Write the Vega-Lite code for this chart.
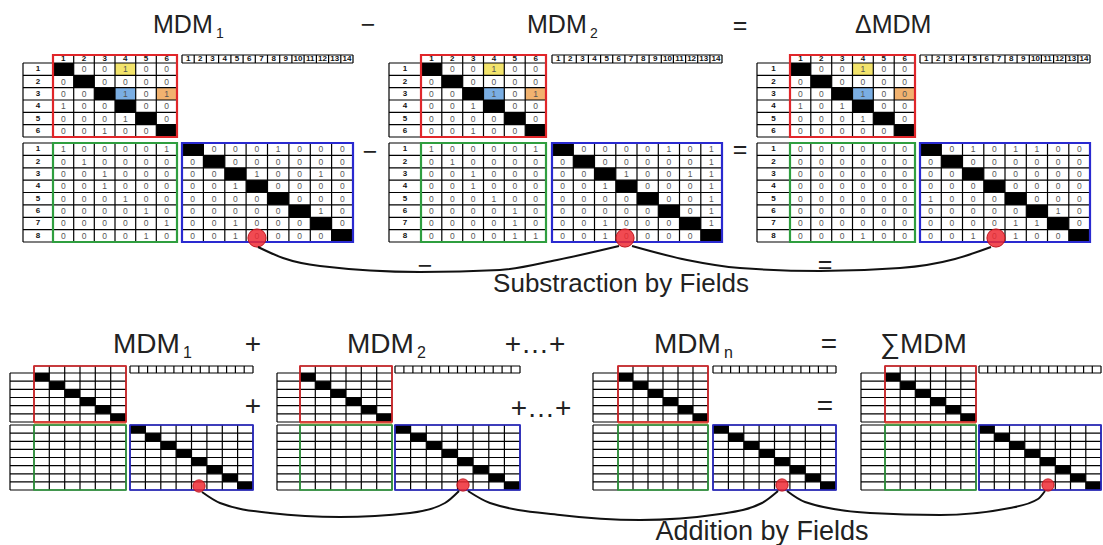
{
  "$schema": "https://vega.github.io/schema/vega-lite/v6.json",
  "width": 1103,
  "height": 545,
  "autosize": "none",
  "padding": 0,
  "background": "white",
  "config": {"view": {"stroke": null}},
  "datasets": {
    "cells": [
      {"x":53,"x2":73.7,"y":63,"y2":75.3,"f":"k"},{"x":73.7,"x2":94.3,"y":75.3,"y2":87.7,"f":"k"},{"x":94.3,"x2":115,"y":87.7,"y2":100,"f":"k"},{"x":115,"x2":135.7,"y":100,"y2":112.3,"f":"k"},{"x":135.7,"x2":156.3,"y":112.3,"y2":124.7,"f":"k"},{"x":156.3,"x2":177,"y":124.7,"y2":137,"f":"k"},
      {"x":115,"x2":135.7,"y":63,"y2":75.3,"f":"y"},{"x":115,"x2":135.7,"y":87.7,"y2":100,"f":"c"},{"x":156.3,"x2":177,"y":87.7,"y2":100,"f":"o"},
      {"x":182,"x2":203.4,"y":143,"y2":155.4,"f":"k"},{"x":203.4,"x2":224.8,"y":155.4,"y2":167.8,"f":"k"},{"x":224.8,"x2":246.1,"y":167.8,"y2":180.1,"f":"k"},{"x":246.1,"x2":267.5,"y":180.1,"y2":192.5,"f":"k"},{"x":267.5,"x2":288.9,"y":192.5,"y2":204.9,"f":"k"},{"x":288.9,"x2":310.3,"y":204.9,"y2":217.3,"f":"k"},{"x":310.3,"x2":331.6,"y":217.3,"y2":229.6,"f":"k"},{"x":331.6,"x2":353,"y":229.6,"y2":242,"f":"k"},
      {"x":421,"x2":441.8,"y":63,"y2":75.3,"f":"k"},{"x":441.8,"x2":462.7,"y":75.3,"y2":87.7,"f":"k"},{"x":462.7,"x2":483.5,"y":87.7,"y2":100,"f":"k"},{"x":483.5,"x2":504.3,"y":100,"y2":112.3,"f":"k"},{"x":504.3,"x2":525.2,"y":112.3,"y2":124.7,"f":"k"},{"x":525.2,"x2":546,"y":124.7,"y2":137,"f":"k"},
      {"x":483.5,"x2":504.3,"y":63,"y2":75.3,"f":"y"},{"x":483.5,"x2":504.3,"y":87.7,"y2":100,"f":"c"},{"x":525.2,"x2":546,"y":87.7,"y2":100,"f":"o"},
      {"x":552,"x2":573.3,"y":143,"y2":155.4,"f":"k"},{"x":573.3,"x2":594.5,"y":155.4,"y2":167.8,"f":"k"},{"x":594.5,"x2":615.8,"y":167.8,"y2":180.1,"f":"k"},{"x":615.8,"x2":637,"y":180.1,"y2":192.5,"f":"k"},{"x":637,"x2":658.3,"y":192.5,"y2":204.9,"f":"k"},{"x":658.3,"x2":679.5,"y":204.9,"y2":217.3,"f":"k"},{"x":679.5,"x2":700.8,"y":217.3,"y2":229.6,"f":"k"},{"x":700.8,"x2":722,"y":229.6,"y2":242,"f":"k"},
      {"x":790,"x2":810.8,"y":63,"y2":75.3,"f":"k"},{"x":810.8,"x2":831.7,"y":75.3,"y2":87.7,"f":"k"},{"x":831.7,"x2":852.5,"y":87.7,"y2":100,"f":"k"},{"x":852.5,"x2":873.3,"y":100,"y2":112.3,"f":"k"},{"x":873.3,"x2":894.2,"y":112.3,"y2":124.7,"f":"k"},{"x":894.2,"x2":915,"y":124.7,"y2":137,"f":"k"},
      {"x":852.5,"x2":873.3,"y":63,"y2":75.3,"f":"y"},{"x":852.5,"x2":873.3,"y":87.7,"y2":100,"f":"c"},{"x":894.2,"x2":915,"y":87.7,"y2":100,"f":"o"},
      {"x":920,"x2":941.3,"y":143,"y2":155.4,"f":"k"},{"x":941.3,"x2":962.5,"y":155.4,"y2":167.8,"f":"k"},{"x":962.5,"x2":983.8,"y":167.8,"y2":180.1,"f":"k"},{"x":983.8,"x2":1005,"y":180.1,"y2":192.5,"f":"k"},{"x":1005,"x2":1026.3,"y":192.5,"y2":204.9,"f":"k"},{"x":1026.3,"x2":1047.5,"y":204.9,"y2":217.3,"f":"k"},{"x":1047.5,"x2":1068.8,"y":217.3,"y2":229.6,"f":"k"},{"x":1068.8,"x2":1090,"y":229.6,"y2":242,"f":"k"},
      {"x":34,"x2":49.3,"y":373,"y2":381.2,"f":"k"},{"x":49.3,"x2":64.7,"y":381.2,"y2":389.3,"f":"k"},{"x":64.7,"x2":80,"y":389.3,"y2":397.5,"f":"k"},{"x":80,"x2":95.3,"y":397.5,"y2":405.7,"f":"k"},{"x":95.3,"x2":110.7,"y":405.7,"y2":413.8,"f":"k"},{"x":110.7,"x2":126,"y":413.8,"y2":422,"f":"k"},
      {"x":130,"x2":145.4,"y":425,"y2":433.1,"f":"k"},{"x":145.4,"x2":160.8,"y":433.1,"y2":441.3,"f":"k"},{"x":160.8,"x2":176.1,"y":441.3,"y2":449.4,"f":"k"},{"x":176.1,"x2":191.5,"y":449.4,"y2":457.5,"f":"k"},{"x":191.5,"x2":206.9,"y":457.5,"y2":465.6,"f":"k"},{"x":206.9,"x2":222.3,"y":465.6,"y2":473.8,"f":"k"},{"x":222.3,"x2":237.6,"y":473.8,"y2":481.9,"f":"k"},{"x":237.6,"x2":253,"y":481.9,"y2":490,"f":"k"},
      {"x":300,"x2":315.3,"y":373,"y2":381.2,"f":"k"},{"x":315.3,"x2":330.7,"y":381.2,"y2":389.3,"f":"k"},{"x":330.7,"x2":346,"y":389.3,"y2":397.5,"f":"k"},{"x":346,"x2":361.3,"y":397.5,"y2":405.7,"f":"k"},{"x":361.3,"x2":376.7,"y":405.7,"y2":413.8,"f":"k"},{"x":376.7,"x2":392,"y":413.8,"y2":422,"f":"k"},
      {"x":395,"x2":410.6,"y":425,"y2":433.1,"f":"k"},{"x":410.6,"x2":426.3,"y":433.1,"y2":441.3,"f":"k"},{"x":426.3,"x2":441.9,"y":441.3,"y2":449.4,"f":"k"},{"x":441.9,"x2":457.5,"y":449.4,"y2":457.5,"f":"k"},{"x":457.5,"x2":473.1,"y":457.5,"y2":465.6,"f":"k"},{"x":473.1,"x2":488.8,"y":465.6,"y2":473.8,"f":"k"},{"x":488.8,"x2":504.4,"y":473.8,"y2":481.9,"f":"k"},{"x":504.4,"x2":520,"y":481.9,"y2":490,"f":"k"},
      {"x":618,"x2":633,"y":373,"y2":381.2,"f":"k"},{"x":633,"x2":648,"y":381.2,"y2":389.3,"f":"k"},{"x":648,"x2":663,"y":389.3,"y2":397.5,"f":"k"},{"x":663,"x2":678,"y":397.5,"y2":405.7,"f":"k"},{"x":678,"x2":693,"y":405.7,"y2":413.8,"f":"k"},{"x":693,"x2":708,"y":413.8,"y2":422,"f":"k"},
      {"x":713,"x2":728.4,"y":425,"y2":433.1,"f":"k"},{"x":728.4,"x2":743.8,"y":433.1,"y2":441.3,"f":"k"},{"x":743.8,"x2":759.1,"y":441.3,"y2":449.4,"f":"k"},{"x":759.1,"x2":774.5,"y":449.4,"y2":457.5,"f":"k"},{"x":774.5,"x2":789.9,"y":457.5,"y2":465.6,"f":"k"},{"x":789.9,"x2":805.3,"y":465.6,"y2":473.8,"f":"k"},{"x":805.3,"x2":820.6,"y":473.8,"y2":481.9,"f":"k"},{"x":820.6,"x2":836,"y":481.9,"y2":490,"f":"k"},
      {"x":885,"x2":900.2,"y":373,"y2":381.2,"f":"k"},{"x":900.2,"x2":915.3,"y":381.2,"y2":389.3,"f":"k"},{"x":915.3,"x2":930.5,"y":389.3,"y2":397.5,"f":"k"},{"x":930.5,"x2":945.7,"y":397.5,"y2":405.7,"f":"k"},{"x":945.7,"x2":960.8,"y":405.7,"y2":413.8,"f":"k"},{"x":960.8,"x2":976,"y":413.8,"y2":422,"f":"k"},
      {"x":979,"x2":994.3,"y":425,"y2":433.1,"f":"k"},{"x":994.3,"x2":1009.5,"y":433.1,"y2":441.3,"f":"k"},{"x":1009.5,"x2":1024.8,"y":441.3,"y2":449.4,"f":"k"},{"x":1024.8,"x2":1040,"y":449.4,"y2":457.5,"f":"k"},{"x":1040,"x2":1055.3,"y":457.5,"y2":465.6,"f":"k"},{"x":1055.3,"x2":1070.5,"y":465.6,"y2":473.8,"f":"k"},{"x":1070.5,"x2":1085.8,"y":473.8,"y2":481.9,"f":"k"},{"x":1085.8,"x2":1101,"y":481.9,"y2":490,"f":"k"}
    ],
    "val": [
      {"x":84,"y":69.2,"t":0},{"x":104.7,"y":69.2,"t":0},{"x":125.3,"y":69.2,"t":1},{"x":146,"y":69.2,"t":0},{"x":166.7,"y":69.2,"t":0},
      {"x":63.3,"y":81.5,"t":0},{"x":104.7,"y":81.5,"t":0},{"x":125.3,"y":81.5,"t":0},{"x":146,"y":81.5,"t":0},{"x":166.7,"y":81.5,"t":0},
      {"x":63.3,"y":93.8,"t":0},{"x":84,"y":93.8,"t":0},{"x":125.3,"y":93.8,"t":1},{"x":146,"y":93.8,"t":0},{"x":166.7,"y":93.8,"t":1},
      {"x":63.3,"y":106.2,"t":1},{"x":84,"y":106.2,"t":0},{"x":104.7,"y":106.2,"t":0},{"x":146,"y":106.2,"t":0},{"x":166.7,"y":106.2,"t":0},
      {"x":63.3,"y":118.5,"t":0},{"x":84,"y":118.5,"t":0},{"x":104.7,"y":118.5,"t":0},{"x":125.3,"y":118.5,"t":1},{"x":166.7,"y":118.5,"t":0},
      {"x":63.3,"y":130.8,"t":0},{"x":84,"y":130.8,"t":0},{"x":104.7,"y":130.8,"t":1},{"x":125.3,"y":130.8,"t":0},{"x":146,"y":130.8,"t":0},
      {"x":63.3,"y":149.2,"t":1},{"x":84,"y":149.2,"t":0},{"x":104.7,"y":149.2,"t":0},{"x":125.3,"y":149.2,"t":0},{"x":146,"y":149.2,"t":0},{"x":166.7,"y":149.2,"t":1},
      {"x":63.3,"y":161.6,"t":0},{"x":84,"y":161.6,"t":1},{"x":104.7,"y":161.6,"t":0},{"x":125.3,"y":161.6,"t":0},{"x":146,"y":161.6,"t":0},{"x":166.7,"y":161.6,"t":0},
      {"x":63.3,"y":173.9,"t":0},{"x":84,"y":173.9,"t":0},{"x":104.7,"y":173.9,"t":1},{"x":125.3,"y":173.9,"t":0},{"x":146,"y":173.9,"t":0},{"x":166.7,"y":173.9,"t":0},
      {"x":63.3,"y":186.3,"t":0},{"x":84,"y":186.3,"t":0},{"x":104.7,"y":186.3,"t":1},{"x":125.3,"y":186.3,"t":0},{"x":146,"y":186.3,"t":0},{"x":166.7,"y":186.3,"t":0},
      {"x":63.3,"y":198.7,"t":0},{"x":84,"y":198.7,"t":0},{"x":104.7,"y":198.7,"t":0},{"x":125.3,"y":198.7,"t":1},{"x":146,"y":198.7,"t":0},{"x":166.7,"y":198.7,"t":0},
      {"x":63.3,"y":211.1,"t":0},{"x":84,"y":211.1,"t":0},{"x":104.7,"y":211.1,"t":0},{"x":125.3,"y":211.1,"t":0},{"x":146,"y":211.1,"t":1},{"x":166.7,"y":211.1,"t":0},
      {"x":63.3,"y":223.4,"t":0},{"x":84,"y":223.4,"t":0},{"x":104.7,"y":223.4,"t":0},{"x":125.3,"y":223.4,"t":0},{"x":146,"y":223.4,"t":0},{"x":166.7,"y":223.4,"t":1},
      {"x":63.3,"y":235.8,"t":0},{"x":84,"y":235.8,"t":0},{"x":104.7,"y":235.8,"t":0},{"x":125.3,"y":235.8,"t":0},{"x":146,"y":235.8,"t":1},{"x":166.7,"y":235.8,"t":0},
      {"x":214.1,"y":149.2,"t":0},{"x":235.4,"y":149.2,"t":0},{"x":256.8,"y":149.2,"t":0},{"x":278.2,"y":149.2,"t":1},{"x":299.6,"y":149.2,"t":0},{"x":320.9,"y":149.2,"t":0},{"x":342.3,"y":149.2,"t":0},
      {"x":192.7,"y":161.6,"t":0},{"x":235.4,"y":161.6,"t":0},{"x":256.8,"y":161.6,"t":0},{"x":278.2,"y":161.6,"t":0},{"x":299.6,"y":161.6,"t":0},{"x":320.9,"y":161.6,"t":0},{"x":342.3,"y":161.6,"t":0},
      {"x":192.7,"y":173.9,"t":0},{"x":214.1,"y":173.9,"t":0},{"x":256.8,"y":173.9,"t":1},{"x":278.2,"y":173.9,"t":0},{"x":299.6,"y":173.9,"t":0},{"x":320.9,"y":173.9,"t":1},{"x":342.3,"y":173.9,"t":0},
      {"x":192.7,"y":186.3,"t":0},{"x":214.1,"y":186.3,"t":0},{"x":235.4,"y":186.3,"t":1},{"x":278.2,"y":186.3,"t":0},{"x":299.6,"y":186.3,"t":0},{"x":320.9,"y":186.3,"t":0},{"x":342.3,"y":186.3,"t":0},
      {"x":192.7,"y":198.7,"t":0},{"x":214.1,"y":198.7,"t":0},{"x":235.4,"y":198.7,"t":0},{"x":256.8,"y":198.7,"t":0},{"x":299.6,"y":198.7,"t":0},{"x":320.9,"y":198.7,"t":0},{"x":342.3,"y":198.7,"t":0},
      {"x":192.7,"y":211.1,"t":0},{"x":214.1,"y":211.1,"t":0},{"x":235.4,"y":211.1,"t":0},{"x":256.8,"y":211.1,"t":0},{"x":278.2,"y":211.1,"t":0},{"x":320.9,"y":211.1,"t":1},{"x":342.3,"y":211.1,"t":0},
      {"x":192.7,"y":223.4,"t":0},{"x":214.1,"y":223.4,"t":0},{"x":235.4,"y":223.4,"t":1},{"x":256.8,"y":223.4,"t":0},{"x":278.2,"y":223.4,"t":0},{"x":299.6,"y":223.4,"t":0},{"x":342.3,"y":223.4,"t":0},
      {"x":192.7,"y":235.8,"t":0},{"x":214.1,"y":235.8,"t":0},{"x":235.4,"y":235.8,"t":1},{"x":256.8,"y":235.8,"t":0},{"x":278.2,"y":235.8,"t":0},{"x":299.6,"y":235.8,"t":0},{"x":320.9,"y":235.8,"t":0},
      {"x":452.3,"y":69.2,"t":0},{"x":473.1,"y":69.2,"t":0},{"x":493.9,"y":69.2,"t":1},{"x":514.8,"y":69.2,"t":0},{"x":535.6,"y":69.2,"t":0},
      {"x":431.4,"y":81.5,"t":0},{"x":473.1,"y":81.5,"t":0},{"x":493.9,"y":81.5,"t":0},{"x":514.8,"y":81.5,"t":0},{"x":535.6,"y":81.5,"t":0},
      {"x":431.4,"y":93.8,"t":0},{"x":452.3,"y":93.8,"t":0},{"x":493.9,"y":93.8,"t":1},{"x":514.8,"y":93.8,"t":0},{"x":535.6,"y":93.8,"t":1},
      {"x":431.4,"y":106.2,"t":0},{"x":452.3,"y":106.2,"t":0},{"x":473.1,"y":106.2,"t":1},{"x":514.8,"y":106.2,"t":0},{"x":535.6,"y":106.2,"t":0},
      {"x":431.4,"y":118.5,"t":0},{"x":452.3,"y":118.5,"t":0},{"x":473.1,"y":118.5,"t":0},{"x":493.9,"y":118.5,"t":0},{"x":535.6,"y":118.5,"t":0},
      {"x":431.4,"y":130.8,"t":0},{"x":452.3,"y":130.8,"t":0},{"x":473.1,"y":130.8,"t":1},{"x":493.9,"y":130.8,"t":0},{"x":514.8,"y":130.8,"t":0},
      {"x":431.4,"y":149.2,"t":1},{"x":452.3,"y":149.2,"t":0},{"x":473.1,"y":149.2,"t":0},{"x":493.9,"y":149.2,"t":0},{"x":514.8,"y":149.2,"t":0},{"x":535.6,"y":149.2,"t":1},
      {"x":431.4,"y":161.6,"t":0},{"x":452.3,"y":161.6,"t":1},{"x":473.1,"y":161.6,"t":0},{"x":493.9,"y":161.6,"t":0},{"x":514.8,"y":161.6,"t":0},{"x":535.6,"y":161.6,"t":0},
      {"x":431.4,"y":173.9,"t":0},{"x":452.3,"y":173.9,"t":0},{"x":473.1,"y":173.9,"t":1},{"x":493.9,"y":173.9,"t":0},{"x":514.8,"y":173.9,"t":0},{"x":535.6,"y":173.9,"t":0},
      {"x":431.4,"y":186.3,"t":0},{"x":452.3,"y":186.3,"t":0},{"x":473.1,"y":186.3,"t":1},{"x":493.9,"y":186.3,"t":0},{"x":514.8,"y":186.3,"t":0},{"x":535.6,"y":186.3,"t":0},
      {"x":431.4,"y":198.7,"t":0},{"x":452.3,"y":198.7,"t":0},{"x":473.1,"y":198.7,"t":0},{"x":493.9,"y":198.7,"t":1},{"x":514.8,"y":198.7,"t":0},{"x":535.6,"y":198.7,"t":0},
      {"x":431.4,"y":211.1,"t":0},{"x":452.3,"y":211.1,"t":0},{"x":473.1,"y":211.1,"t":0},{"x":493.9,"y":211.1,"t":0},{"x":514.8,"y":211.1,"t":1},{"x":535.6,"y":211.1,"t":0},
      {"x":431.4,"y":223.4,"t":0},{"x":452.3,"y":223.4,"t":0},{"x":473.1,"y":223.4,"t":0},{"x":493.9,"y":223.4,"t":0},{"x":514.8,"y":223.4,"t":1},{"x":535.6,"y":223.4,"t":0},
      {"x":431.4,"y":235.8,"t":0},{"x":452.3,"y":235.8,"t":0},{"x":473.1,"y":235.8,"t":0},{"x":493.9,"y":235.8,"t":0},{"x":514.8,"y":235.8,"t":1},{"x":535.6,"y":235.8,"t":1},
      {"x":583.9,"y":149.2,"t":0},{"x":605.1,"y":149.2,"t":0},{"x":626.4,"y":149.2,"t":0},{"x":647.6,"y":149.2,"t":0},{"x":668.9,"y":149.2,"t":1},{"x":690.1,"y":149.2,"t":0},{"x":711.4,"y":149.2,"t":1},
      {"x":562.6,"y":161.6,"t":0},{"x":605.1,"y":161.6,"t":0},{"x":626.4,"y":161.6,"t":0},{"x":647.6,"y":161.6,"t":0},{"x":668.9,"y":161.6,"t":0},{"x":690.1,"y":161.6,"t":0},{"x":711.4,"y":161.6,"t":1},
      {"x":562.6,"y":173.9,"t":0},{"x":583.9,"y":173.9,"t":0},{"x":626.4,"y":173.9,"t":1},{"x":647.6,"y":173.9,"t":0},{"x":668.9,"y":173.9,"t":0},{"x":690.1,"y":173.9,"t":1},{"x":711.4,"y":173.9,"t":1},
      {"x":562.6,"y":186.3,"t":0},{"x":583.9,"y":186.3,"t":0},{"x":605.1,"y":186.3,"t":1},{"x":647.6,"y":186.3,"t":0},{"x":668.9,"y":186.3,"t":0},{"x":690.1,"y":186.3,"t":0},{"x":711.4,"y":186.3,"t":1},
      {"x":562.6,"y":198.7,"t":0},{"x":583.9,"y":198.7,"t":0},{"x":605.1,"y":198.7,"t":0},{"x":626.4,"y":198.7,"t":0},{"x":668.9,"y":198.7,"t":0},{"x":690.1,"y":198.7,"t":0},{"x":711.4,"y":198.7,"t":1},
      {"x":562.6,"y":211.1,"t":0},{"x":583.9,"y":211.1,"t":0},{"x":605.1,"y":211.1,"t":0},{"x":626.4,"y":211.1,"t":0},{"x":647.6,"y":211.1,"t":0},{"x":690.1,"y":211.1,"t":0},{"x":711.4,"y":211.1,"t":1},
      {"x":562.6,"y":223.4,"t":0},{"x":583.9,"y":223.4,"t":0},{"x":605.1,"y":223.4,"t":1},{"x":626.4,"y":223.4,"t":0},{"x":647.6,"y":223.4,"t":0},{"x":668.9,"y":223.4,"t":0},{"x":711.4,"y":223.4,"t":1},
      {"x":562.6,"y":235.8,"t":0},{"x":583.9,"y":235.8,"t":0},{"x":605.1,"y":235.8,"t":1},{"x":626.4,"y":235.8,"t":0},{"x":647.6,"y":235.8,"t":0},{"x":668.9,"y":235.8,"t":0},{"x":690.1,"y":235.8,"t":0},
      {"x":821.3,"y":69.2,"t":0},{"x":842.1,"y":69.2,"t":0},{"x":862.9,"y":69.2,"t":1},{"x":883.8,"y":69.2,"t":0},{"x":904.6,"y":69.2,"t":0},
      {"x":800.4,"y":81.5,"t":0},{"x":842.1,"y":81.5,"t":0},{"x":862.9,"y":81.5,"t":0},{"x":883.8,"y":81.5,"t":0},{"x":904.6,"y":81.5,"t":0},
      {"x":800.4,"y":93.8,"t":0},{"x":821.3,"y":93.8,"t":0},{"x":862.9,"y":93.8,"t":1},{"x":883.8,"y":93.8,"t":0},{"x":904.6,"y":93.8,"t":0},
      {"x":800.4,"y":106.2,"t":1},{"x":821.3,"y":106.2,"t":0},{"x":842.1,"y":106.2,"t":1},{"x":883.8,"y":106.2,"t":0},{"x":904.6,"y":106.2,"t":0},
      {"x":800.4,"y":118.5,"t":0},{"x":821.3,"y":118.5,"t":0},{"x":842.1,"y":118.5,"t":0},{"x":862.9,"y":118.5,"t":1},{"x":904.6,"y":118.5,"t":0},
      {"x":800.4,"y":130.8,"t":0},{"x":821.3,"y":130.8,"t":0},{"x":842.1,"y":130.8,"t":0},{"x":862.9,"y":130.8,"t":0},{"x":883.8,"y":130.8,"t":0},
      {"x":800.4,"y":149.2,"t":0},{"x":821.3,"y":149.2,"t":0},{"x":842.1,"y":149.2,"t":0},{"x":862.9,"y":149.2,"t":0},{"x":883.8,"y":149.2,"t":0},{"x":904.6,"y":149.2,"t":0},
      {"x":800.4,"y":161.6,"t":0},{"x":821.3,"y":161.6,"t":0},{"x":842.1,"y":161.6,"t":0},{"x":862.9,"y":161.6,"t":0},{"x":883.8,"y":161.6,"t":0},{"x":904.6,"y":161.6,"t":0},
      {"x":800.4,"y":173.9,"t":0},{"x":821.3,"y":173.9,"t":0},{"x":842.1,"y":173.9,"t":0},{"x":862.9,"y":173.9,"t":0},{"x":883.8,"y":173.9,"t":0},{"x":904.6,"y":173.9,"t":0},
      {"x":800.4,"y":186.3,"t":0},{"x":821.3,"y":186.3,"t":0},{"x":842.1,"y":186.3,"t":0},{"x":862.9,"y":186.3,"t":0},{"x":883.8,"y":186.3,"t":0},{"x":904.6,"y":186.3,"t":0},
      {"x":800.4,"y":198.7,"t":0},{"x":821.3,"y":198.7,"t":0},{"x":842.1,"y":198.7,"t":0},{"x":862.9,"y":198.7,"t":0},{"x":883.8,"y":198.7,"t":0},{"x":904.6,"y":198.7,"t":0},
      {"x":800.4,"y":211.1,"t":0},{"x":821.3,"y":211.1,"t":0},{"x":842.1,"y":211.1,"t":0},{"x":862.9,"y":211.1,"t":0},{"x":883.8,"y":211.1,"t":0},{"x":904.6,"y":211.1,"t":0},
      {"x":800.4,"y":223.4,"t":0},{"x":821.3,"y":223.4,"t":0},{"x":842.1,"y":223.4,"t":0},{"x":862.9,"y":223.4,"t":0},{"x":883.8,"y":223.4,"t":0},{"x":904.6,"y":223.4,"t":0},
      {"x":800.4,"y":235.8,"t":0},{"x":821.3,"y":235.8,"t":0},{"x":842.1,"y":235.8,"t":0},{"x":862.9,"y":235.8,"t":1},{"x":883.8,"y":235.8,"t":0},{"x":904.6,"y":235.8,"t":0},
      {"x":951.9,"y":149.2,"t":0},{"x":973.1,"y":149.2,"t":1},{"x":994.4,"y":149.2,"t":0},{"x":1015.6,"y":149.2,"t":1},{"x":1036.9,"y":149.2,"t":1},{"x":1058.1,"y":149.2,"t":0},{"x":1079.4,"y":149.2,"t":0},
      {"x":930.6,"y":161.6,"t":0},{"x":973.1,"y":161.6,"t":0},{"x":994.4,"y":161.6,"t":0},{"x":1015.6,"y":161.6,"t":0},{"x":1036.9,"y":161.6,"t":0},{"x":1058.1,"y":161.6,"t":0},{"x":1079.4,"y":161.6,"t":0},
      {"x":930.6,"y":173.9,"t":0},{"x":951.9,"y":173.9,"t":0},{"x":994.4,"y":173.9,"t":0},{"x":1015.6,"y":173.9,"t":0},{"x":1036.9,"y":173.9,"t":0},{"x":1058.1,"y":173.9,"t":0},{"x":1079.4,"y":173.9,"t":0},
      {"x":930.6,"y":186.3,"t":0},{"x":951.9,"y":186.3,"t":0},{"x":973.1,"y":186.3,"t":0},{"x":1015.6,"y":186.3,"t":0},{"x":1036.9,"y":186.3,"t":0},{"x":1058.1,"y":186.3,"t":0},{"x":1079.4,"y":186.3,"t":0},
      {"x":930.6,"y":198.7,"t":1},{"x":951.9,"y":198.7,"t":0},{"x":973.1,"y":198.7,"t":0},{"x":994.4,"y":198.7,"t":0},{"x":1036.9,"y":198.7,"t":0},{"x":1058.1,"y":198.7,"t":0},{"x":1079.4,"y":198.7,"t":0},
      {"x":930.6,"y":211.1,"t":0},{"x":951.9,"y":211.1,"t":0},{"x":973.1,"y":211.1,"t":0},{"x":994.4,"y":211.1,"t":0},{"x":1015.6,"y":211.1,"t":0},{"x":1058.1,"y":211.1,"t":1},{"x":1079.4,"y":211.1,"t":0},
      {"x":930.6,"y":223.4,"t":0},{"x":951.9,"y":223.4,"t":0},{"x":973.1,"y":223.4,"t":0},{"x":994.4,"y":223.4,"t":0},{"x":1015.6,"y":223.4,"t":1},{"x":1036.9,"y":223.4,"t":1},{"x":1079.4,"y":223.4,"t":0},
      {"x":930.6,"y":235.8,"t":0},{"x":951.9,"y":235.8,"t":0},{"x":973.1,"y":235.8,"t":1},{"x":994.4,"y":235.8,"t":0},{"x":1015.6,"y":235.8,"t":1},{"x":1036.9,"y":235.8,"t":0},{"x":1058.1,"y":235.8,"t":0}
    ],
    "lab": [
      {"x":38,"y":69.2,"t":"1"},{"x":38,"y":81.5,"t":"2"},{"x":38,"y":93.8,"t":"3"},{"x":38,"y":106.2,"t":"4"},{"x":38,"y":118.5,"t":"5"},{"x":38,"y":130.8,"t":"6"},
      {"x":38,"y":149.2,"t":"1"},{"x":38,"y":161.6,"t":"2"},{"x":38,"y":173.9,"t":"3"},{"x":38,"y":186.3,"t":"4"},{"x":38,"y":198.7,"t":"5"},{"x":38,"y":211.1,"t":"6"},{"x":38,"y":223.4,"t":"7"},{"x":38,"y":235.8,"t":"8"},
      {"x":63.3,"y":59,"t":"1"},{"x":84,"y":59,"t":"2"},{"x":104.7,"y":59,"t":"3"},{"x":125.3,"y":59,"t":"4"},{"x":146,"y":59,"t":"5"},{"x":166.7,"y":59,"t":"6"},
      {"x":188.1,"y":59,"t":"1"},{"x":200.3,"y":59,"t":"2"},{"x":212.5,"y":59,"t":"3"},{"x":224.7,"y":59,"t":"4"},{"x":237,"y":59,"t":"5"},{"x":249.2,"y":59,"t":"6"},{"x":261.4,"y":59,"t":"7"},{"x":273.6,"y":59,"t":"8"},{"x":285.8,"y":59,"t":"9"},{"x":298,"y":59,"t":"10"},{"x":310.3,"y":59,"t":"11"},{"x":322.5,"y":59,"t":"12"},{"x":334.7,"y":59,"t":"13"},{"x":346.9,"y":59,"t":"14"},
      {"x":405,"y":69.2,"t":"1"},{"x":405,"y":81.5,"t":"2"},{"x":405,"y":93.8,"t":"3"},{"x":405,"y":106.2,"t":"4"},{"x":405,"y":118.5,"t":"5"},{"x":405,"y":130.8,"t":"6"},
      {"x":405,"y":149.2,"t":"1"},{"x":405,"y":161.6,"t":"2"},{"x":405,"y":173.9,"t":"3"},{"x":405,"y":186.3,"t":"4"},{"x":405,"y":198.7,"t":"5"},{"x":405,"y":211.1,"t":"6"},{"x":405,"y":223.4,"t":"7"},{"x":405,"y":235.8,"t":"8"},
      {"x":431.4,"y":59,"t":"1"},{"x":452.3,"y":59,"t":"2"},{"x":473.1,"y":59,"t":"3"},{"x":493.9,"y":59,"t":"4"},{"x":514.8,"y":59,"t":"5"},{"x":535.6,"y":59,"t":"6"},
      {"x":558.1,"y":59,"t":"1"},{"x":570.2,"y":59,"t":"2"},{"x":582.4,"y":59,"t":"3"},{"x":594.5,"y":59,"t":"4"},{"x":606.6,"y":59,"t":"5"},{"x":618.8,"y":59,"t":"6"},{"x":630.9,"y":59,"t":"7"},{"x":643.1,"y":59,"t":"8"},{"x":655.2,"y":59,"t":"9"},{"x":667.4,"y":59,"t":"10"},{"x":679.5,"y":59,"t":"11"},{"x":691.6,"y":59,"t":"12"},{"x":703.8,"y":59,"t":"13"},{"x":715.9,"y":59,"t":"14"},
      {"x":773.5,"y":69.2,"t":"1"},{"x":773.5,"y":81.5,"t":"2"},{"x":773.5,"y":93.8,"t":"3"},{"x":773.5,"y":106.2,"t":"4"},{"x":773.5,"y":118.5,"t":"5"},{"x":773.5,"y":130.8,"t":"6"},
      {"x":773.5,"y":149.2,"t":"1"},{"x":773.5,"y":161.6,"t":"2"},{"x":773.5,"y":173.9,"t":"3"},{"x":773.5,"y":186.3,"t":"4"},{"x":773.5,"y":198.7,"t":"5"},{"x":773.5,"y":211.1,"t":"6"},{"x":773.5,"y":223.4,"t":"7"},{"x":773.5,"y":235.8,"t":"8"},
      {"x":800.4,"y":59,"t":"1"},{"x":821.3,"y":59,"t":"2"},{"x":842.1,"y":59,"t":"3"},{"x":862.9,"y":59,"t":"4"},{"x":883.8,"y":59,"t":"5"},{"x":904.6,"y":59,"t":"6"},
      {"x":926.1,"y":59,"t":"1"},{"x":938.2,"y":59,"t":"2"},{"x":950.4,"y":59,"t":"3"},{"x":962.5,"y":59,"t":"4"},{"x":974.6,"y":59,"t":"5"},{"x":986.8,"y":59,"t":"6"},{"x":998.9,"y":59,"t":"7"},{"x":1011.1,"y":59,"t":"8"},{"x":1023.2,"y":59,"t":"9"},{"x":1035.4,"y":59,"t":"10"},{"x":1047.5,"y":59,"t":"11"},{"x":1059.6,"y":59,"t":"12"},{"x":1071.8,"y":59,"t":"13"},{"x":1083.9,"y":59,"t":"14"}
    ],
    "hl": [
      {"y":55,"a":53,"b":177},{"y":55,"a":182,"b":353},{"y":63,"a":23,"b":177},{"y":63,"a":182,"b":353},
      {"y":75.3,"a":23,"b":177},{"y":87.7,"a":23,"b":177},{"y":100,"a":23,"b":177},{"y":112.3,"a":23,"b":177},{"y":124.7,"a":23,"b":177},{"y":137,"a":23,"b":177},
      {"y":143,"a":23,"b":177},{"y":155.4,"a":23,"b":177},{"y":167.8,"a":23,"b":177},{"y":180.1,"a":23,"b":177},{"y":192.5,"a":23,"b":177},{"y":204.9,"a":23,"b":177},{"y":217.3,"a":23,"b":177},{"y":229.6,"a":23,"b":177},{"y":242,"a":23,"b":177},
      {"y":143,"a":182,"b":353},{"y":155.4,"a":182,"b":353},{"y":167.8,"a":182,"b":353},{"y":180.1,"a":182,"b":353},{"y":192.5,"a":182,"b":353},{"y":204.9,"a":182,"b":353},{"y":217.3,"a":182,"b":353},{"y":229.6,"a":182,"b":353},{"y":242,"a":182,"b":353},
      {"y":55,"a":421,"b":546},{"y":55,"a":552,"b":722},{"y":63,"a":389,"b":546},{"y":63,"a":552,"b":722},
      {"y":75.3,"a":389,"b":546},{"y":87.7,"a":389,"b":546},{"y":100,"a":389,"b":546},{"y":112.3,"a":389,"b":546},{"y":124.7,"a":389,"b":546},{"y":137,"a":389,"b":546},
      {"y":143,"a":389,"b":546},{"y":155.4,"a":389,"b":546},{"y":167.8,"a":389,"b":546},{"y":180.1,"a":389,"b":546},{"y":192.5,"a":389,"b":546},{"y":204.9,"a":389,"b":546},{"y":217.3,"a":389,"b":546},{"y":229.6,"a":389,"b":546},{"y":242,"a":389,"b":546},
      {"y":143,"a":552,"b":722},{"y":155.4,"a":552,"b":722},{"y":167.8,"a":552,"b":722},{"y":180.1,"a":552,"b":722},{"y":192.5,"a":552,"b":722},{"y":204.9,"a":552,"b":722},{"y":217.3,"a":552,"b":722},{"y":229.6,"a":552,"b":722},{"y":242,"a":552,"b":722},
      {"y":55,"a":790,"b":915},{"y":55,"a":920,"b":1090},{"y":63,"a":757,"b":915},{"y":63,"a":920,"b":1090},
      {"y":75.3,"a":757,"b":915},{"y":87.7,"a":757,"b":915},{"y":100,"a":757,"b":915},{"y":112.3,"a":757,"b":915},{"y":124.7,"a":757,"b":915},{"y":137,"a":757,"b":915},
      {"y":143,"a":757,"b":915},{"y":155.4,"a":757,"b":915},{"y":167.8,"a":757,"b":915},{"y":180.1,"a":757,"b":915},{"y":192.5,"a":757,"b":915},{"y":204.9,"a":757,"b":915},{"y":217.3,"a":757,"b":915},{"y":229.6,"a":757,"b":915},{"y":242,"a":757,"b":915},
      {"y":143,"a":920,"b":1090},{"y":155.4,"a":920,"b":1090},{"y":167.8,"a":920,"b":1090},{"y":180.1,"a":920,"b":1090},{"y":192.5,"a":920,"b":1090},{"y":204.9,"a":920,"b":1090},{"y":217.3,"a":920,"b":1090},{"y":229.6,"a":920,"b":1090},{"y":242,"a":920,"b":1090},
      {"y":366,"a":34,"b":126},{"y":366,"a":130,"b":253},{"y":373,"a":10,"b":126},{"y":373,"a":130,"b":253},
      {"y":381.2,"a":10,"b":126},{"y":389.3,"a":10,"b":126},{"y":397.5,"a":10,"b":126},{"y":405.7,"a":10,"b":126},{"y":413.8,"a":10,"b":126},{"y":422,"a":10,"b":126},
      {"y":425,"a":10,"b":126},{"y":433.1,"a":10,"b":126},{"y":441.3,"a":10,"b":126},{"y":449.4,"a":10,"b":126},{"y":457.5,"a":10,"b":126},{"y":465.6,"a":10,"b":126},{"y":473.8,"a":10,"b":126},{"y":481.9,"a":10,"b":126},{"y":490,"a":10,"b":126},
      {"y":425,"a":130,"b":253},{"y":433.1,"a":130,"b":253},{"y":441.3,"a":130,"b":253},{"y":449.4,"a":130,"b":253},{"y":457.5,"a":130,"b":253},{"y":465.6,"a":130,"b":253},{"y":473.8,"a":130,"b":253},{"y":481.9,"a":130,"b":253},{"y":490,"a":130,"b":253},
      {"y":366,"a":300,"b":392},{"y":366,"a":395,"b":520},{"y":373,"a":277,"b":392},{"y":373,"a":395,"b":520},
      {"y":381.2,"a":277,"b":392},{"y":389.3,"a":277,"b":392},{"y":397.5,"a":277,"b":392},{"y":405.7,"a":277,"b":392},{"y":413.8,"a":277,"b":392},{"y":422,"a":277,"b":392},
      {"y":425,"a":277,"b":392},{"y":433.1,"a":277,"b":392},{"y":441.3,"a":277,"b":392},{"y":449.4,"a":277,"b":392},{"y":457.5,"a":277,"b":392},{"y":465.6,"a":277,"b":392},{"y":473.8,"a":277,"b":392},{"y":481.9,"a":277,"b":392},{"y":490,"a":277,"b":392},
      {"y":425,"a":395,"b":520},{"y":433.1,"a":395,"b":520},{"y":441.3,"a":395,"b":520},{"y":449.4,"a":395,"b":520},{"y":457.5,"a":395,"b":520},{"y":465.6,"a":395,"b":520},{"y":473.8,"a":395,"b":520},{"y":481.9,"a":395,"b":520},{"y":490,"a":395,"b":520},
      {"y":366,"a":618,"b":708},{"y":366,"a":713,"b":836},{"y":373,"a":593,"b":708},{"y":373,"a":713,"b":836},
      {"y":381.2,"a":593,"b":708},{"y":389.3,"a":593,"b":708},{"y":397.5,"a":593,"b":708},{"y":405.7,"a":593,"b":708},{"y":413.8,"a":593,"b":708},{"y":422,"a":593,"b":708},
      {"y":425,"a":593,"b":708},{"y":433.1,"a":593,"b":708},{"y":441.3,"a":593,"b":708},{"y":449.4,"a":593,"b":708},{"y":457.5,"a":593,"b":708},{"y":465.6,"a":593,"b":708},{"y":473.8,"a":593,"b":708},{"y":481.9,"a":593,"b":708},{"y":490,"a":593,"b":708},
      {"y":425,"a":713,"b":836},{"y":433.1,"a":713,"b":836},{"y":441.3,"a":713,"b":836},{"y":449.4,"a":713,"b":836},{"y":457.5,"a":713,"b":836},{"y":465.6,"a":713,"b":836},{"y":473.8,"a":713,"b":836},{"y":481.9,"a":713,"b":836},{"y":490,"a":713,"b":836},
      {"y":366,"a":885,"b":976},{"y":366,"a":979,"b":1101},{"y":373,"a":861,"b":976},{"y":373,"a":979,"b":1101},
      {"y":381.2,"a":861,"b":976},{"y":389.3,"a":861,"b":976},{"y":397.5,"a":861,"b":976},{"y":405.7,"a":861,"b":976},{"y":413.8,"a":861,"b":976},{"y":422,"a":861,"b":976},
      {"y":425,"a":861,"b":976},{"y":433.1,"a":861,"b":976},{"y":441.3,"a":861,"b":976},{"y":449.4,"a":861,"b":976},{"y":457.5,"a":861,"b":976},{"y":465.6,"a":861,"b":976},{"y":473.8,"a":861,"b":976},{"y":481.9,"a":861,"b":976},{"y":490,"a":861,"b":976},
      {"y":425,"a":979,"b":1101},{"y":433.1,"a":979,"b":1101},{"y":441.3,"a":979,"b":1101},{"y":449.4,"a":979,"b":1101},{"y":457.5,"a":979,"b":1101},{"y":465.6,"a":979,"b":1101},{"y":473.8,"a":979,"b":1101},{"y":481.9,"a":979,"b":1101},{"y":490,"a":979,"b":1101}
    ],
    "vl": [
      {"x":23,"a":63,"b":137},{"x":23,"a":143,"b":242},
      {"x":53,"a":55,"b":137},{"x":73.7,"a":55,"b":137},{"x":94.3,"a":55,"b":137},{"x":115,"a":55,"b":137},{"x":135.7,"a":55,"b":137},{"x":156.3,"a":55,"b":137},{"x":177,"a":55,"b":137},
      {"x":53,"a":143,"b":242},{"x":73.7,"a":143,"b":242},{"x":94.3,"a":143,"b":242},{"x":115,"a":143,"b":242},{"x":135.7,"a":143,"b":242},{"x":156.3,"a":143,"b":242},{"x":177,"a":143,"b":242},
      {"x":182,"a":55,"b":63},{"x":194.2,"a":55,"b":63},{"x":206.4,"a":55,"b":63},{"x":218.6,"a":55,"b":63},{"x":230.9,"a":55,"b":63},{"x":243.1,"a":55,"b":63},{"x":255.3,"a":55,"b":63},{"x":267.5,"a":55,"b":63},{"x":279.7,"a":55,"b":63},{"x":291.9,"a":55,"b":63},{"x":304.1,"a":55,"b":63},{"x":316.4,"a":55,"b":63},{"x":328.6,"a":55,"b":63},{"x":340.8,"a":55,"b":63},{"x":353,"a":55,"b":63},
      {"x":182,"a":143,"b":242},{"x":203.4,"a":143,"b":242},{"x":224.8,"a":143,"b":242},{"x":246.1,"a":143,"b":242},{"x":267.5,"a":143,"b":242},{"x":288.9,"a":143,"b":242},{"x":310.3,"a":143,"b":242},{"x":331.6,"a":143,"b":242},{"x":353,"a":143,"b":242},
      {"x":389,"a":63,"b":137},{"x":389,"a":143,"b":242},
      {"x":421,"a":55,"b":137},{"x":441.8,"a":55,"b":137},{"x":462.7,"a":55,"b":137},{"x":483.5,"a":55,"b":137},{"x":504.3,"a":55,"b":137},{"x":525.2,"a":55,"b":137},{"x":546,"a":55,"b":137},
      {"x":421,"a":143,"b":242},{"x":441.8,"a":143,"b":242},{"x":462.7,"a":143,"b":242},{"x":483.5,"a":143,"b":242},{"x":504.3,"a":143,"b":242},{"x":525.2,"a":143,"b":242},{"x":546,"a":143,"b":242},
      {"x":552,"a":55,"b":63},{"x":564.1,"a":55,"b":63},{"x":576.3,"a":55,"b":63},{"x":588.4,"a":55,"b":63},{"x":600.6,"a":55,"b":63},{"x":612.7,"a":55,"b":63},{"x":624.9,"a":55,"b":63},{"x":637,"a":55,"b":63},{"x":649.1,"a":55,"b":63},{"x":661.3,"a":55,"b":63},{"x":673.4,"a":55,"b":63},{"x":685.6,"a":55,"b":63},{"x":697.7,"a":55,"b":63},{"x":709.9,"a":55,"b":63},{"x":722,"a":55,"b":63},
      {"x":552,"a":143,"b":242},{"x":573.3,"a":143,"b":242},{"x":594.5,"a":143,"b":242},{"x":615.8,"a":143,"b":242},{"x":637,"a":143,"b":242},{"x":658.3,"a":143,"b":242},{"x":679.5,"a":143,"b":242},{"x":700.8,"a":143,"b":242},{"x":722,"a":143,"b":242},
      {"x":757,"a":63,"b":137},{"x":757,"a":143,"b":242},
      {"x":790,"a":55,"b":137},{"x":810.8,"a":55,"b":137},{"x":831.7,"a":55,"b":137},{"x":852.5,"a":55,"b":137},{"x":873.3,"a":55,"b":137},{"x":894.2,"a":55,"b":137},{"x":915,"a":55,"b":137},
      {"x":790,"a":143,"b":242},{"x":810.8,"a":143,"b":242},{"x":831.7,"a":143,"b":242},{"x":852.5,"a":143,"b":242},{"x":873.3,"a":143,"b":242},{"x":894.2,"a":143,"b":242},{"x":915,"a":143,"b":242},
      {"x":920,"a":55,"b":63},{"x":932.1,"a":55,"b":63},{"x":944.3,"a":55,"b":63},{"x":956.4,"a":55,"b":63},{"x":968.6,"a":55,"b":63},{"x":980.7,"a":55,"b":63},{"x":992.9,"a":55,"b":63},{"x":1005,"a":55,"b":63},{"x":1017.1,"a":55,"b":63},{"x":1029.3,"a":55,"b":63},{"x":1041.4,"a":55,"b":63},{"x":1053.6,"a":55,"b":63},{"x":1065.7,"a":55,"b":63},{"x":1077.9,"a":55,"b":63},{"x":1090,"a":55,"b":63},
      {"x":920,"a":143,"b":242},{"x":941.3,"a":143,"b":242},{"x":962.5,"a":143,"b":242},{"x":983.8,"a":143,"b":242},{"x":1005,"a":143,"b":242},{"x":1026.3,"a":143,"b":242},{"x":1047.5,"a":143,"b":242},{"x":1068.8,"a":143,"b":242},{"x":1090,"a":143,"b":242},
      {"x":10,"a":373,"b":422},{"x":10,"a":425,"b":490},
      {"x":34,"a":366,"b":422},{"x":49.3,"a":366,"b":422},{"x":64.7,"a":366,"b":422},{"x":80,"a":366,"b":422},{"x":95.3,"a":366,"b":422},{"x":110.7,"a":366,"b":422},{"x":126,"a":366,"b":422},
      {"x":34,"a":425,"b":490},{"x":49.3,"a":425,"b":490},{"x":64.7,"a":425,"b":490},{"x":80,"a":425,"b":490},{"x":95.3,"a":425,"b":490},{"x":110.7,"a":425,"b":490},{"x":126,"a":425,"b":490},
      {"x":130,"a":366,"b":373},{"x":138.8,"a":366,"b":373},{"x":147.6,"a":366,"b":373},{"x":156.4,"a":366,"b":373},{"x":165.1,"a":366,"b":373},{"x":173.9,"a":366,"b":373},{"x":182.7,"a":366,"b":373},{"x":191.5,"a":366,"b":373},{"x":200.3,"a":366,"b":373},{"x":209.1,"a":366,"b":373},{"x":217.9,"a":366,"b":373},{"x":226.6,"a":366,"b":373},{"x":235.4,"a":366,"b":373},{"x":244.2,"a":366,"b":373},{"x":253,"a":366,"b":373},
      {"x":130,"a":425,"b":490},{"x":145.4,"a":425,"b":490},{"x":160.8,"a":425,"b":490},{"x":176.1,"a":425,"b":490},{"x":191.5,"a":425,"b":490},{"x":206.9,"a":425,"b":490},{"x":222.3,"a":425,"b":490},{"x":237.6,"a":425,"b":490},{"x":253,"a":425,"b":490},
      {"x":277,"a":373,"b":422},{"x":277,"a":425,"b":490},
      {"x":300,"a":366,"b":422},{"x":315.3,"a":366,"b":422},{"x":330.7,"a":366,"b":422},{"x":346,"a":366,"b":422},{"x":361.3,"a":366,"b":422},{"x":376.7,"a":366,"b":422},{"x":392,"a":366,"b":422},
      {"x":300,"a":425,"b":490},{"x":315.3,"a":425,"b":490},{"x":330.7,"a":425,"b":490},{"x":346,"a":425,"b":490},{"x":361.3,"a":425,"b":490},{"x":376.7,"a":425,"b":490},{"x":392,"a":425,"b":490},
      {"x":395,"a":366,"b":373},{"x":403.9,"a":366,"b":373},{"x":412.9,"a":366,"b":373},{"x":421.8,"a":366,"b":373},{"x":430.7,"a":366,"b":373},{"x":439.6,"a":366,"b":373},{"x":448.6,"a":366,"b":373},{"x":457.5,"a":366,"b":373},{"x":466.4,"a":366,"b":373},{"x":475.4,"a":366,"b":373},{"x":484.3,"a":366,"b":373},{"x":493.2,"a":366,"b":373},{"x":502.1,"a":366,"b":373},{"x":511.1,"a":366,"b":373},{"x":520,"a":366,"b":373},
      {"x":395,"a":425,"b":490},{"x":410.6,"a":425,"b":490},{"x":426.3,"a":425,"b":490},{"x":441.9,"a":425,"b":490},{"x":457.5,"a":425,"b":490},{"x":473.1,"a":425,"b":490},{"x":488.8,"a":425,"b":490},{"x":504.4,"a":425,"b":490},{"x":520,"a":425,"b":490},
      {"x":593,"a":373,"b":422},{"x":593,"a":425,"b":490},
      {"x":618,"a":366,"b":422},{"x":633,"a":366,"b":422},{"x":648,"a":366,"b":422},{"x":663,"a":366,"b":422},{"x":678,"a":366,"b":422},{"x":693,"a":366,"b":422},{"x":708,"a":366,"b":422},
      {"x":618,"a":425,"b":490},{"x":633,"a":425,"b":490},{"x":648,"a":425,"b":490},{"x":663,"a":425,"b":490},{"x":678,"a":425,"b":490},{"x":693,"a":425,"b":490},{"x":708,"a":425,"b":490},
      {"x":713,"a":366,"b":373},{"x":721.8,"a":366,"b":373},{"x":730.6,"a":366,"b":373},{"x":739.4,"a":366,"b":373},{"x":748.1,"a":366,"b":373},{"x":756.9,"a":366,"b":373},{"x":765.7,"a":366,"b":373},{"x":774.5,"a":366,"b":373},{"x":783.3,"a":366,"b":373},{"x":792.1,"a":366,"b":373},{"x":800.9,"a":366,"b":373},{"x":809.6,"a":366,"b":373},{"x":818.4,"a":366,"b":373},{"x":827.2,"a":366,"b":373},{"x":836,"a":366,"b":373},
      {"x":713,"a":425,"b":490},{"x":728.4,"a":425,"b":490},{"x":743.8,"a":425,"b":490},{"x":759.1,"a":425,"b":490},{"x":774.5,"a":425,"b":490},{"x":789.9,"a":425,"b":490},{"x":805.3,"a":425,"b":490},{"x":820.6,"a":425,"b":490},{"x":836,"a":425,"b":490},
      {"x":861,"a":373,"b":422},{"x":861,"a":425,"b":490},
      {"x":885,"a":366,"b":422},{"x":900.2,"a":366,"b":422},{"x":915.3,"a":366,"b":422},{"x":930.5,"a":366,"b":422},{"x":945.7,"a":366,"b":422},{"x":960.8,"a":366,"b":422},{"x":976,"a":366,"b":422},
      {"x":885,"a":425,"b":490},{"x":900.2,"a":425,"b":490},{"x":915.3,"a":425,"b":490},{"x":930.5,"a":425,"b":490},{"x":945.7,"a":425,"b":490},{"x":960.8,"a":425,"b":490},{"x":976,"a":425,"b":490},
      {"x":979,"a":366,"b":373},{"x":987.7,"a":366,"b":373},{"x":996.4,"a":366,"b":373},{"x":1005.1,"a":366,"b":373},{"x":1013.9,"a":366,"b":373},{"x":1022.6,"a":366,"b":373},{"x":1031.3,"a":366,"b":373},{"x":1040,"a":366,"b":373},{"x":1048.7,"a":366,"b":373},{"x":1057.4,"a":366,"b":373},{"x":1066.1,"a":366,"b":373},{"x":1074.9,"a":366,"b":373},{"x":1083.6,"a":366,"b":373},{"x":1092.3,"a":366,"b":373},{"x":1101,"a":366,"b":373},
      {"x":979,"a":425,"b":490},{"x":994.3,"a":425,"b":490},{"x":1009.5,"a":425,"b":490},{"x":1024.8,"a":425,"b":490},{"x":1040,"a":425,"b":490},{"x":1055.3,"a":425,"b":490},{"x":1070.5,"a":425,"b":490},{"x":1085.8,"a":425,"b":490},{"x":1101,"a":425,"b":490}
    ],
    "boxes": [
      {"x":53,"x2":177,"y":55,"y2":137,"c":"r","l":"t"},{"x":53,"x2":177,"y":143,"y2":242,"c":"g","l":"t"},{"x":182,"x2":353,"y":143,"y2":242,"c":"b","l":"t"},
      {"x":421,"x2":546,"y":55,"y2":137,"c":"r","l":"t"},{"x":421,"x2":546,"y":143,"y2":242,"c":"g","l":"t"},{"x":552,"x2":722,"y":143,"y2":242,"c":"b","l":"t"},
      {"x":790,"x2":915,"y":55,"y2":137,"c":"r","l":"t"},{"x":790,"x2":915,"y":143,"y2":242,"c":"g","l":"t"},{"x":920,"x2":1090,"y":143,"y2":242,"c":"b","l":"t"},
      {"x":34,"x2":126,"y":366,"y2":422,"c":"r","l":"b"},{"x":34,"x2":126,"y":425,"y2":490,"c":"g","l":"b"},{"x":130,"x2":253,"y":425,"y2":490,"c":"b","l":"b"},
      {"x":300,"x2":392,"y":366,"y2":422,"c":"r","l":"b"},{"x":300,"x2":392,"y":425,"y2":490,"c":"g","l":"b"},{"x":395,"x2":520,"y":425,"y2":490,"c":"b","l":"b"},
      {"x":618,"x2":708,"y":366,"y2":422,"c":"r","l":"b"},{"x":618,"x2":708,"y":425,"y2":490,"c":"g","l":"b"},{"x":713,"x2":836,"y":425,"y2":490,"c":"b","l":"b"},
      {"x":885,"x2":976,"y":366,"y2":422,"c":"r","l":"b"},{"x":885,"x2":976,"y":425,"y2":490,"c":"g","l":"b"},{"x":979,"x2":1101,"y":425,"y2":490,"c":"b","l":"b"}
    ],
    "tan": [
      {"y":423,"a":34,"b":126},{"y":423,"a":300,"b":392},{"y":423,"a":618,"b":708},{"y":423,"a":885,"b":976}
    ],
    "circles": [
      {"x":257,"y":238,"l":"t"},{"x":625,"y":238,"l":"t"},{"x":996,"y":238,"l":"t"},
      {"x":199,"y":486,"l":"b"},{"x":463,"y":485,"l":"b"},{"x":782,"y":485,"l":"b"},{"x":1048,"y":485,"l":"b"}
    ],
    "arcs": [
      {"a":"t1","x":258,"y":247},{"a":"t1","x":283,"y":258},{"a":"t1","x":320,"y":266},{"a":"t1","x":420,"y":272},{"a":"t1","x":500,"y":270},{"a":"t1","x":557,"y":260},{"a":"t1","x":619,"y":246},
      {"a":"t2","x":632,"y":246},{"a":"t2","x":687,"y":260},{"a":"t2","x":740,"y":268},{"a":"t2","x":820,"y":271},{"a":"t2","x":900,"y":268},{"a":"t2","x":955,"y":259},{"a":"t2","x":991,"y":247},
      {"a":"b1","x":202,"y":492},{"a":"b1","x":220,"y":503},{"a":"b1","x":270,"y":513},{"a":"b1","x":340,"y":517},{"a":"b1","x":410,"y":513},{"a":"b1","x":445,"y":503},{"a":"b1","x":459,"y":491},
      {"a":"b2","x":468,"y":491},{"a":"b2","x":490,"y":503},{"a":"b2","x":560,"y":515},{"a":"b2","x":640,"y":520},{"a":"b2","x":720,"y":514},{"a":"b2","x":762,"y":503},{"a":"b2","x":778,"y":491},
      {"a":"b3","x":787,"y":491},{"a":"b3","x":805,"y":502},{"a":"b3","x":870,"y":513},{"a":"b3","x":940,"y":515},{"a":"b3","x":1010,"y":508},{"a":"b3","x":1038,"y":499},{"a":"b3","x":1045,"y":491}
    ],
    "tleft": [
      {"x":153,"y":33,"t":"MDM","k":"h1"},{"x":216,"y":38,"t":"1","k":"s1"},
      {"x":527,"y":33,"t":"MDM","k":"h1"},{"x":590,"y":38,"t":"2","k":"s1"},
      {"x":855,"y":33,"t":"ΔMDM","k":"h1"},
      {"x":113,"y":353,"t":"MDM","k":"h2"},{"x":183,"y":358,"t":"1","k":"s2"},
      {"x":347,"y":353,"t":"MDM","k":"h2"},{"x":417,"y":358,"t":"2","k":"s2"},
      {"x":654,"y":353,"t":"MDM","k":"h2"},{"x":724,"y":358,"t":"n","k":"s2"},
      {"x":880,"y":353,"t":"∑MDM","k":"h2"}
    ],
    "tcenter": [
      {"x":368,"y":33,"t":"−","k":"h1"},{"x":740,"y":34,"t":"=","k":"h1"},
      {"x":370,"y":160,"t":"−","k":"h1"},{"x":740,"y":158,"t":"=","k":"h1"},
      {"x":425,"y":274,"t":"−","k":"h1"},{"x":825,"y":273,"t":"=","k":"h1"},
      {"x":621,"y":292,"t":"Substraction by Fields","k":"c1"},
      {"x":253,"y":353,"t":"+","k":"h2"},{"x":535,"y":353,"t":"+…+","k":"h2"},{"x":829,"y":353,"t":"=","k":"h2"},
      {"x":253,"y":415,"t":"+","k":"h2"},{"x":541,"y":417,"t":"+…+","k":"h2"},{"x":825,"y":415,"t":"=","k":"h2"},
      {"x":762,"y":540,"t":"Addition by Fields","k":"c2"}
    ]
  },
  "layer": [
    {
      "data": {"name": "cells"},
      "mark": {"type": "rect"},
      "encoding": {
        "x": {"field": "x", "type": "quantitative", "scale": {"domain": [0, 1103], "nice": false}, "axis": null},
        "x2": {"field": "x2"},
        "y": {"field": "y", "type": "quantitative", "scale": {"domain": [0, 545], "nice": false, "reverse": true}, "axis": null},
        "y2": {"field": "y2"},
        "color": {"field": "f", "type": "nominal", "scale": {"domain": ["k", "y", "c", "o"], "range": ["#000000", "#f3e46c", "#7aaee3", "#f1b26f"]}, "legend": null}
      }
    },
    {
      "data": {"name": "val"},
      "mark": {"type": "text", "font": "Liberation Sans", "fontSize": 8.5, "fill": "#555555", "align": "center", "baseline": "middle"},
      "encoding": {
        "x": {"field": "x", "type": "quantitative", "scale": {"domain": [0, 1103], "nice": false}, "axis": null},
        "y": {"field": "y", "type": "quantitative", "scale": {"domain": [0, 545], "nice": false, "reverse": true}, "axis": null},
        "text": {"field": "t", "type": "nominal"}
      }
    },
    {
      "data": {"name": "lab"},
      "mark": {"type": "text", "font": "Liberation Sans", "fontSize": 8, "fontWeight": "bold", "fill": "#111111", "align": "center", "baseline": "middle"},
      "encoding": {
        "x": {"field": "x", "type": "quantitative", "scale": {"domain": [0, 1103], "nice": false}, "axis": null},
        "y": {"field": "y", "type": "quantitative", "scale": {"domain": [0, 545], "nice": false, "reverse": true}, "axis": null},
        "text": {"field": "t", "type": "nominal"}
      }
    },
    {
      "data": {"name": "hl"},
      "mark": {"type": "rule", "color": "#000000", "strokeWidth": 1.2},
      "encoding": {
        "x": {"field": "a", "type": "quantitative", "scale": {"domain": [0, 1103], "nice": false}, "axis": null},
        "x2": {"field": "b"},
        "y": {"field": "y", "type": "quantitative", "scale": {"domain": [0, 545], "nice": false, "reverse": true}, "axis": null}
      }
    },
    {
      "data": {"name": "vl"},
      "mark": {"type": "rule", "color": "#000000", "strokeWidth": 1.2},
      "encoding": {
        "x": {"field": "x", "type": "quantitative", "scale": {"domain": [0, 1103], "nice": false}, "axis": null},
        "y": {"field": "a", "type": "quantitative", "scale": {"domain": [0, 545], "nice": false, "reverse": true}, "axis": null},
        "y2": {"field": "b"}
      }
    },
    {
      "data": {"name": "tan"},
      "mark": {"type": "rule", "color": "#d9a77a", "strokeWidth": 3},
      "encoding": {
        "x": {"field": "a", "type": "quantitative", "scale": {"domain": [0, 1103], "nice": false}, "axis": null},
        "x2": {"field": "b"},
        "y": {"field": "y", "type": "quantitative", "scale": {"domain": [0, 545], "nice": false, "reverse": true}, "axis": null}
      }
    },
    {
      "data": {"name": "boxes"},
      "mark": {"type": "rect", "filled": false},
      "encoding": {
        "x": {"field": "x", "type": "quantitative", "scale": {"domain": [0, 1103], "nice": false}, "axis": null},
        "x2": {"field": "x2"},
        "y": {"field": "y", "type": "quantitative", "scale": {"domain": [0, 545], "nice": false, "reverse": true}, "axis": null},
        "y2": {"field": "y2"},
        "stroke": {"field": "c", "type": "nominal", "scale": {"domain": ["r", "g", "b"], "range": ["#e0262a", "#2f9e3f", "#2a2ad0"]}, "legend": null},
        "strokeWidth": {"field": "l", "type": "nominal", "scale": {"domain": ["t", "b"], "range": [2.2, 1.6]}, "legend": null}
      }
    },
    {
      "data": {"name": "circles"},
      "mark": {"type": "point", "shape": "circle", "filled": true, "fill": "#ee2a34", "fillOpacity": 0.85, "stroke": "#c0141c", "strokeWidth": 1},
      "encoding": {
        "x": {"field": "x", "type": "quantitative", "scale": {"domain": [0, 1103], "nice": false}, "axis": null},
        "y": {"field": "y", "type": "quantitative", "scale": {"domain": [0, 545], "nice": false, "reverse": true}, "axis": null},
        "size": {"field": "l", "type": "nominal", "scale": {"domain": ["t", "b"], "range": [330, 150]}, "legend": null}
      }
    },
    {
      "data": {"name": "arcs"},
      "mark": {"type": "line", "interpolate": "monotone", "color": "#111111", "strokeWidth": 2},
      "encoding": {
        "x": {"field": "x", "type": "quantitative", "scale": {"domain": [0, 1103], "nice": false}, "axis": null},
        "y": {"field": "y", "type": "quantitative", "scale": {"domain": [0, 545], "nice": false, "reverse": true}, "axis": null},
        "detail": {"field": "a", "type": "nominal"}
      }
    },
    {
      "data": {"name": "tleft"},
      "transform": [{"filter": {"field": "k", "equal": "h1"}}],
      "mark": {"type": "text", "font": "Liberation Sans", "fontSize": 25, "align": "left", "baseline": "alphabetic", "fill": "#222222"},
      "encoding": {
        "x": {"field": "x", "type": "quantitative", "scale": {"domain": [0, 1103], "nice": false}, "axis": null},
        "y": {"field": "y", "type": "quantitative", "scale": {"domain": [0, 545], "nice": false, "reverse": true}, "axis": null},
        "text": {"field": "t", "type": "nominal"}
      }
    },
    {
      "data": {"name": "tleft"},
      "transform": [{"filter": {"field": "k", "equal": "s1"}}],
      "mark": {"type": "text", "font": "Liberation Sans", "fontSize": 14, "align": "left", "baseline": "alphabetic", "fill": "#222222"},
      "encoding": {
        "x": {"field": "x", "type": "quantitative", "scale": {"domain": [0, 1103], "nice": false}, "axis": null},
        "y": {"field": "y", "type": "quantitative", "scale": {"domain": [0, 545], "nice": false, "reverse": true}, "axis": null},
        "text": {"field": "t", "type": "nominal"}
      }
    },
    {
      "data": {"name": "tleft"},
      "transform": [{"filter": {"field": "k", "equal": "h2"}}],
      "mark": {"type": "text", "font": "Liberation Sans", "fontSize": 28, "align": "left", "baseline": "alphabetic", "fill": "#222222"},
      "encoding": {
        "x": {"field": "x", "type": "quantitative", "scale": {"domain": [0, 1103], "nice": false}, "axis": null},
        "y": {"field": "y", "type": "quantitative", "scale": {"domain": [0, 545], "nice": false, "reverse": true}, "axis": null},
        "text": {"field": "t", "type": "nominal"}
      }
    },
    {
      "data": {"name": "tleft"},
      "transform": [{"filter": {"field": "k", "equal": "s2"}}],
      "mark": {"type": "text", "font": "Liberation Sans", "fontSize": 16, "align": "left", "baseline": "alphabetic", "fill": "#222222"},
      "encoding": {
        "x": {"field": "x", "type": "quantitative", "scale": {"domain": [0, 1103], "nice": false}, "axis": null},
        "y": {"field": "y", "type": "quantitative", "scale": {"domain": [0, 545], "nice": false, "reverse": true}, "axis": null},
        "text": {"field": "t", "type": "nominal"}
      }
    },
    {
      "data": {"name": "tcenter"},
      "transform": [{"filter": {"field": "k", "equal": "h1"}}],
      "mark": {"type": "text", "font": "Liberation Sans", "fontSize": 25, "align": "center", "baseline": "alphabetic", "fill": "#222222"},
      "encoding": {
        "x": {"field": "x", "type": "quantitative", "scale": {"domain": [0, 1103], "nice": false}, "axis": null},
        "y": {"field": "y", "type": "quantitative", "scale": {"domain": [0, 545], "nice": false, "reverse": true}, "axis": null},
        "text": {"field": "t", "type": "nominal"}
      }
    },
    {
      "data": {"name": "tcenter"},
      "transform": [{"filter": {"field": "k", "equal": "h2"}}],
      "mark": {"type": "text", "font": "Liberation Sans", "fontSize": 28, "align": "center", "baseline": "alphabetic", "fill": "#222222"},
      "encoding": {
        "x": {"field": "x", "type": "quantitative", "scale": {"domain": [0, 1103], "nice": false}, "axis": null},
        "y": {"field": "y", "type": "quantitative", "scale": {"domain": [0, 545], "nice": false, "reverse": true}, "axis": null},
        "text": {"field": "t", "type": "nominal"}
      }
    },
    {
      "data": {"name": "tcenter"},
      "transform": [{"filter": {"field": "k", "equal": "c1"}}],
      "mark": {"type": "text", "font": "Liberation Sans", "fontSize": 26, "align": "center", "baseline": "alphabetic", "fill": "#222222"},
      "encoding": {
        "x": {"field": "x", "type": "quantitative", "scale": {"domain": [0, 1103], "nice": false}, "axis": null},
        "y": {"field": "y", "type": "quantitative", "scale": {"domain": [0, 545], "nice": false, "reverse": true}, "axis": null},
        "text": {"field": "t", "type": "nominal"}
      }
    },
    {
      "data": {"name": "tcenter"},
      "transform": [{"filter": {"field": "k", "equal": "c2"}}],
      "mark": {"type": "text", "font": "Liberation Sans", "fontSize": 27, "align": "center", "baseline": "alphabetic", "fill": "#222222"},
      "encoding": {
        "x": {"field": "x", "type": "quantitative", "scale": {"domain": [0, 1103], "nice": false}, "axis": null},
        "y": {"field": "y", "type": "quantitative", "scale": {"domain": [0, 545], "nice": false, "reverse": true}, "axis": null},
        "text": {"field": "t", "type": "nominal"}
      }
    }
  ],
  "resolve": {"scale": {"size": "independent", "color": "independent", "stroke": "independent", "strokeWidth": "independent"}}
}
